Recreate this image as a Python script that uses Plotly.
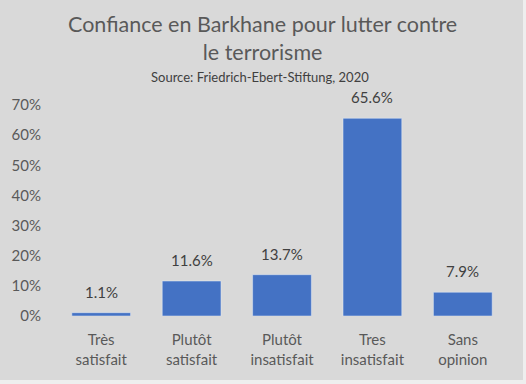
import plotly.graph_objects as go

categories = ["Très<br>satisfait", "Plutôt<br>satisfait", "Plutôt<br>insatisfait", "Tres<br>insatisfait", "Sans<br>opinion"]
values = [0.011, 0.116, 0.137, 0.656, 0.079]
labels = ["1.1%", "11.6%", "13.7%", "65.6%", "7.9%"]

W, H = 526, 384
L, R, T, B = 56, 18, 105, 68
FONT = "Lato, Open Sans, sans-serif"
GREY = "#595959"

fig = go.Figure(go.Bar(
    x=categories, y=values,
    marker=dict(color="#4472C4"), cliponaxis=False,
))

pw = W - L - R
ph = H - T - B
def px_x(p):
    return (p - L) / pw
def px_y(p):
    return (H - B - p) / ph

fig.add_shape(type="rect", xref="paper", yref="paper",
              x0=px_x(-2), x1=px_x(523), y0=px_y(380), y1=px_y(-2),
              fillcolor="#d9d9d9", line=dict(width=0), layer="below")

annotations = [
    dict(x=c, y=v, text=t, xref="x", yref="y", showarrow=False, yanchor="bottom", yshift=10,
         font=dict(size=15, color="#404040", family=FONT))
    for c, v, t in zip(categories, values, labels)
]
annotations += [
    dict(text="Confiance en Barkhane pour lutter contre<br>le terrorisme", xref="paper", yref="paper",
         x=px_x(262), y=px_y(38), xanchor="center", yanchor="middle", showarrow=False,
         font=dict(size=21.5, color=GREY, family=FONT)),
    dict(text="Source: Friedrich-Ebert-Stiftung, 2020", xref="paper", yref="paper",
         x=px_x(260), y=px_y(77), xanchor="center", yanchor="middle", showarrow=False,
         font=dict(size=13, color="#404040", family=FONT)),
]

fig.update_layout(
    width=W, height=H,
    margin=dict(l=L, r=R, t=T, b=B),
    paper_bgcolor="#eeeeee", plot_bgcolor="rgba(0,0,0,0)",
    bargap=0.35, showlegend=False,
    font=dict(family=FONT, color=GREY),
    xaxis=dict(tickfont=dict(size=15, color=GREY), showline=False, ticks="", showgrid=False,
               ticklabelstandoff=13),
    yaxis=dict(range=[0, 0.7], dtick=0.1, tickformat=".0%", showgrid=False, zeroline=False,
               tickfont=dict(size=15, color=GREY), ticklabelstandoff=14),
    annotations=annotations,
)

fig.write_html("out.html", config={"displayModeBar": False},
               post_script="document.body.style.margin='0';document.body.style.padding='0';")
